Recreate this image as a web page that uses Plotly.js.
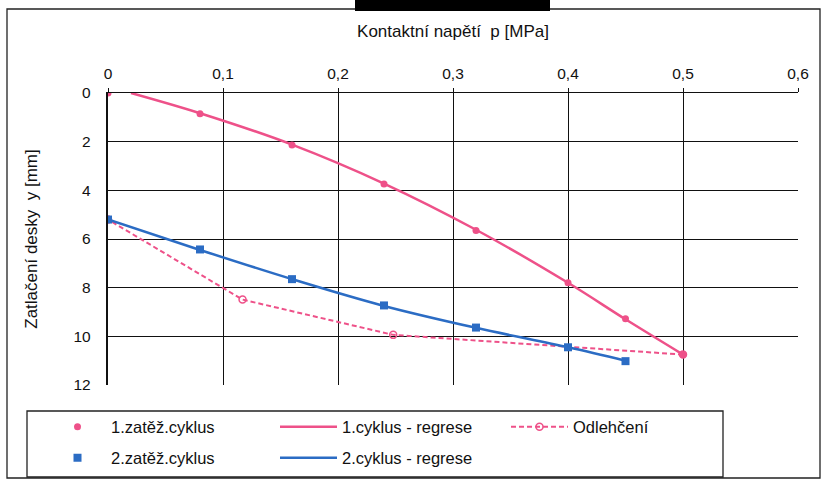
<!DOCTYPE html>
<html>
<head>
<meta charset="utf-8">
<script src="https://cdn.plot.ly/plotly-3.0.1.min.js"></script>
<style>html,body{margin:0;padding:0;background:#fff;}#chart{width:824px;height:479px;}</style>
</head>
<body>
<div id="chart"></div>
<script>
// Data
const pressure1 = [0, 0.08, 0.16, 0.24, 0.32, 0.40, 0.45, 0.50];
const settle1 = [0, 0.85, 2.14, 3.74, 5.65, 7.8, 9.28, 10.75];
const regX1 = [0.02, 0.08, 0.16, 0.24, 0.32, 0.40, 0.45, 0.50];
const regY1 = [0, 0.83, 2.12, 3.72, 5.62, 7.8, 9.3, 10.75];
const pressure2 = [0, 0.08, 0.16, 0.24, 0.32, 0.40, 0.45];
const settle2 = [5.2, 6.43, 7.65, 8.73, 9.64, 10.45, 11.02];
const regX2 = [0, 0.08, 0.16, 0.24, 0.32, 0.40, 0.45];
const regY2 = [5.2, 6.45, 7.65, 8.75, 9.65, 10.45, 11.0];
const unloadX = [0.50, 0.248, 0.117, 0];
const unloadY = [10.75, 9.94, 8.49, 5.2];
const xTicks = [0, 0.1, 0.2, 0.3, 0.4, 0.5, 0.6];
const yTicks = [0, 2, 4, 6, 8, 10, 12];

const pink = '#ee5189';
const blue = '#2b6cc4';
const font = 'Liberation Sans, Arial, sans-serif';

const traces = [
  {x: regX1, y: regY1, mode: 'lines', name: '1.cyklus - regrese', line: {color: pink, width: 2.5, shape: 'spline'}, legend: 'legend', legendrank: 2},
  {x: unloadX, y: unloadY, mode: 'lines+markers', name: 'Odlehčení', line: {color: pink, width: 2, dash: '5px,3px'}, marker: {symbol: 'circle-open', size: 7, color: pink, line: {width: 1.5}}, legend: 'legend', legendrank: 3},
  {x: regX2, y: regY2, mode: 'lines', name: '2.cyklus - regrese', line: {color: blue, width: 2.5, shape: 'spline'}, legend: 'legend2', legendrank: 2},
  {x: pressure1, y: settle1, mode: 'markers', name: '1.zatěž.cyklus', marker: {symbol: 'circle', size: 7, color: pink}, legend: 'legend', legendrank: 1},
  {x: pressure2, y: settle2, mode: 'markers', name: '2.zatěž.cyklus', marker: {symbol: 'square', size: 8, color: blue}, legend: 'legend2', legendrank: 1}
];

// pixel -> paper / container helpers
const W = 824, H = 479;
const L = 108, R = 798, T = 93, B = 385;
const px = v => (v - L) / (R - L);
const py = v => (B - v) / (B - T);
const cx = v => v / W;
const cy = v => 1 - v / H;

const legendFont = {family: font, size: 16.5, color: '#111'};
const legendBase = {orientation: 'h', xref: 'container', yref: 'container', xanchor: 'left', yanchor: 'middle',
  itemwidth: 57, entrywidth: 159, entrywidthmode: 'pixels', bgcolor: 'rgba(0,0,0,0)', font: legendFont, traceorder: 'normal'};

const layout = {
  width: W, height: H,
  margin: {l: L, r: W - R, t: T, b: H - B},
  paper_bgcolor: '#fff', plot_bgcolor: '#fff',
  separators: ', ',
  font: {family: font, size: 15, color: '#111'},
  showlegend: true,
  xaxis: {
    side: 'top', range: [0, 0.6], tickvals: xTicks, tickformat: '.1~f',
    showgrid: true, gridcolor: '#111', gridwidth: 1,
    zeroline: false, showline: true, linecolor: '#111', linewidth: 1,
    ticks: 'outside', ticklen: 4, tickcolor: '#111', ticklabelstandoff: 3,
    tickfont: {family: font, size: 15.5, color: '#111'},
    title: {text: 'Kontaktní napětí  p [MPa]', standoff: 22, font: {family: font, size: 17, color: '#111'}}
  },
  yaxis: {
    range: [12, 0], tickvals: yTicks,
    showgrid: true, gridcolor: '#111', gridwidth: 1,
    zeroline: false, showline: true, linecolor: '#111', linewidth: 2.2,
    ticks: '', ticklabelstandoff: 12, tickfont: {family: font, size: 15.5, color: '#111'},
    title: {text: 'Zatlačení desky  y [mm]', standoff: 32, font: {family: font, size: 17, color: '#111'}}
  },
  legend: Object.assign({}, legendBase, {x: cx(44), y: cy(427)}),
  legend2: Object.assign({}, legendBase, {x: cx(44), y: cy(458)}),
  shapes: [
    {type: 'rect', xref: 'paper', yref: 'paper', x0: px(7), x1: px(820), y0: py(478), y1: py(9), line: {color: '#222', width: 1.3}, layer: 'below'},
    {type: 'rect', xref: 'paper', yref: 'paper', x0: px(27), x1: px(723), y0: py(477), y1: py(411), line: {color: '#222', width: 1.3}},
    {type: 'rect', xref: 'paper', yref: 'paper', x0: px(355), x1: px(550), y0: py(11), y1: py(-2), fillcolor: '#000', line: {width: 0}}
  ]
};

Plotly.newPlot('chart', traces, layout, {displayModeBar: false, staticPlot: true});
</script>
</body>
</html>
